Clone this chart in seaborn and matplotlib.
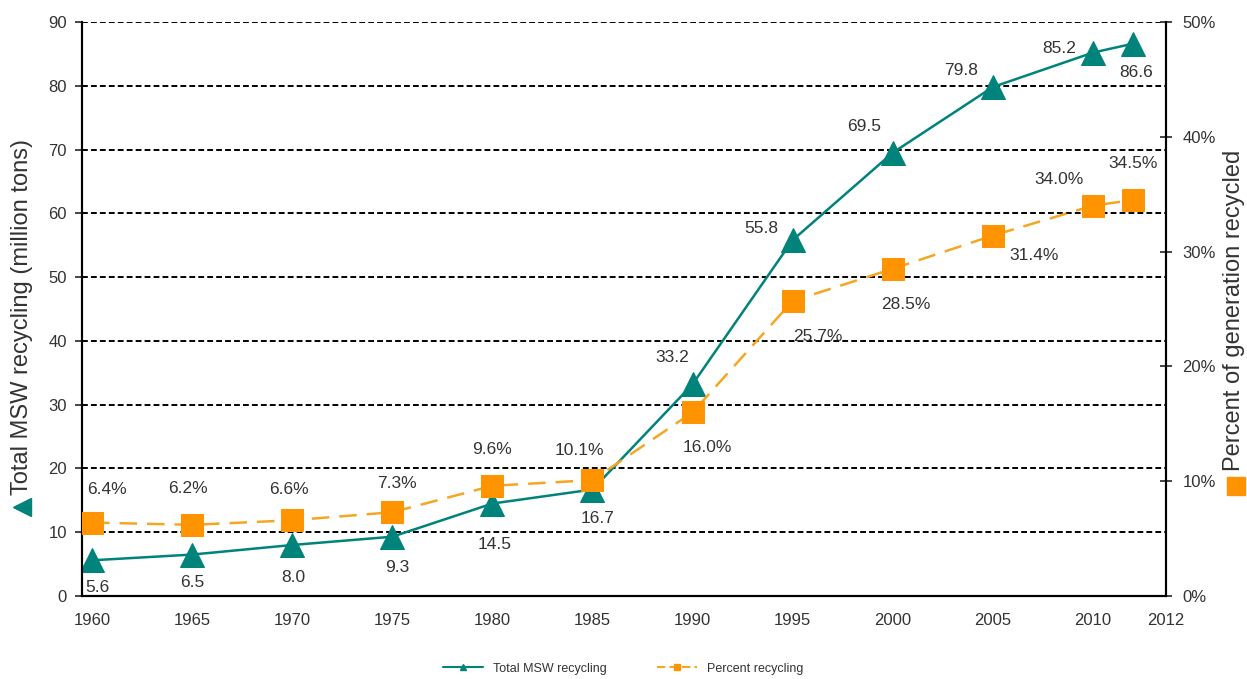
import matplotlib
matplotlib.use("Agg")
import matplotlib.pyplot as plt
from matplotlib.lines import Line2D
import pandas as pd
import seaborn as sns

# data
years = [1960, 1965, 1970, 1975, 1980, 1985, 1990, 1995, 2000, 2005, 2010, 2012]
total_recycling = [5.6, 6.5, 8.0, 9.3, 14.5, 16.7, 33.2, 55.8, 69.5, 79.8, 85.2, 86.6]
percent_recycling = [6.4, 6.2, 6.6, 7.3, 9.6, 10.1, 16.0, 25.7, 28.5, 31.4, 34.0, 34.5]
year_labels = ["1960", "1965", "1970", "1975", "1980", "1985", "1990", "1995",
               "2000", "2005", "2010", "2012"]
left_ticks = [0, 10, 20, 30, 40, 50, 60, 70, 80, 90]
right_ticks = [0, 10, 20, 30, 40, 50]

TEAL = "#00837a"
ORANGE = "#ff9400"
TXT = "#333333"

df = pd.DataFrame({"year": years, "total": total_recycling, "pct": percent_recycling})

sns.set_style("white")
plt.rcParams["font.family"] = ["Liberation Sans", "DejaVu Sans"]

fig = plt.figure(figsize=(12.47, 6.79), dpi=100)
ax = fig.add_axes([0.0658, 0.1222, 0.8692, 0.8454])
ax2 = ax.twinx()

sns.lineplot(data=df, x="year", y="total", ax=ax, color=TEAL, lw=1.8,
             marker="^", markersize=17, markeredgecolor=TEAL, zorder=4)
sns.lineplot(data=df, x="year", y="pct", ax=ax2, color="#f5a623", lw=1.8,
             marker="s", markersize=16, markerfacecolor=ORANGE,
             markeredgecolor=ORANGE, zorder=4)
ax2.lines[0].set_dashes([7, 4])

xmin, xmax = 1959.5, 2013.65
ax.set_xlim(xmin, xmax)
ax.set_ylim(0, 90)
ax2.set_ylim(0, 50)

# grid
for v in left_ticks[1:]:
    ax.axhline(v, color="black", lw=1.4, ls=(0, (3, 1.6)), zorder=1)

ax.set_xticks(years[:-1] + [xmax])
ax.set_xticklabels(year_labels, fontsize=12, color=TXT)
ax.set_yticks(left_ticks)
ax.set_yticklabels([str(v) for v in left_ticks], fontsize=12, color=TXT)
ax2.set_yticks(right_ticks)
ax2.set_yticklabels([f"{v}%" for v in right_ticks], fontsize=12, color=TXT)

ax.tick_params(axis="x", length=0, pad=12)
ax.tick_params(axis="y", length=5, width=1.2, direction="out", pad=6)
ax2.tick_params(axis="y", length=8, width=1.2, direction="inout", pad=8)

for a in (ax, ax2):
    a.set_xlabel("")
    a.set_ylabel("")
    for s in a.spines.values():
        s.set_color("black")
        s.set_linewidth(1.5)
    a.spines["top"].set_visible(False)

# axis titles with symbol keys
fig.add_artist(Line2D([0.0176], [0.254], marker="<", ms=13, color=TEAL,
                      transform=fig.transFigure))
fig.text(0.0176, 0.271, "Total MSW recycling (million tons)", rotation=90,
         color=TXT, fontsize=17, ha="center", va="bottom")
fig.add_artist(Line2D([0.9915], [0.2845], marker="s", ms=12.5, color=ORANGE,
                      transform=fig.transFigure))
fig.text(0.9895, 0.306, "Percent of generation recycled", rotation=90,
         color=TXT, fontsize=17, ha="center", va="bottom")

# data labels (pixel offsets from each point)
total_off = [(5, -27), (0, -28), (1, -32), (5, -31), (2, -41), (5, -29),
             (-20, 27), (-31, 12), (-29, 26), (-32, 17), (-34, 4), (3, -29)]
pct_off = [(15, 33), (-4, 36), (-3, 31), (5, 29), (0, 36), (-13, 30),
           (15, -35), (25, -36), (13, -36), (41, -20), (-34, 26), (0, 36)]
for x, v, o in zip(years, total_recycling, total_off):
    ax.annotate(f"{v:.1f}", (x, v), xytext=o, textcoords="offset pixels",
                ha="center", va="center", fontsize=12.5, color=TXT, zorder=6)
for x, v, o in zip(years, percent_recycling, pct_off):
    ax2.annotate(f"{v:.1f}%", (x, v), xytext=o, textcoords="offset pixels",
                 ha="center", va="center", fontsize=12.5, color=TXT, zorder=6)

handles = [
    Line2D([], [], color=TEAL, lw=1.5, marker="^", markersize=5),
    Line2D([], [], color="#f5a623", lw=1.5, ls=(0, (4, 2)), marker="s",
           markersize=5, markerfacecolor=ORANGE, markeredgecolor=ORANGE),
]
fig.legend(handles, ["Total MSW recycling", "Percent recycling"], loc="lower center",
           bbox_to_anchor=(0.5, -0.01), ncol=2, frameon=False, fontsize=9,
           handlelength=3.2, columnspacing=4, labelcolor=TXT)

fig.savefig("out.png", dpi=100)
